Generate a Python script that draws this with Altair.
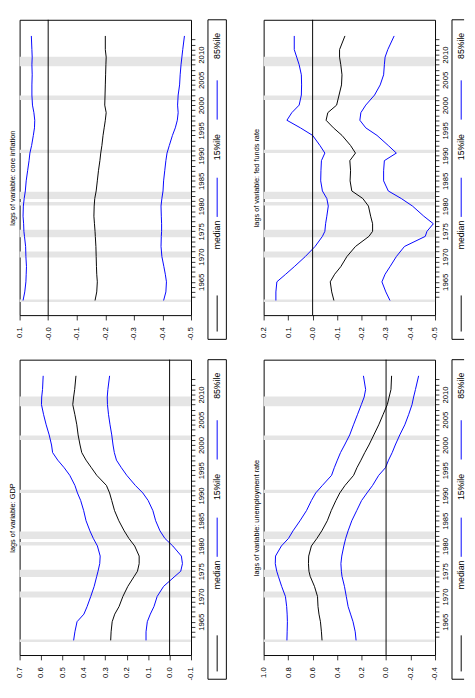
import altair as alt
import pandas as pd

# ---------------- data ----------------
YEARS = [1961.3, 1963, 1965, 1966.5, 1968, 1970, 1972, 1974, 1975, 1976.5, 1978,
         1980, 1981.5, 1983, 1985, 1987, 1989, 1990.5, 1992, 1994, 1995.5, 1997,
         1998.5, 2000, 2002, 2004, 2006, 2008, 2009.5, 2011, 2013.7]

REC_START = [1961.0, 1969.8, 1973.85, 1980.1, 1981.4, 1990.5, 2001.0, 2007.7]
REC_END = [1961.5, 1971.0, 1975.3, 1980.8, 1982.85, 1991.15, 2001.9, 2009.6]

# core inflation
INF_MED = [-0.164, -0.170, -0.172, -0.170, -0.169, -0.168, -0.167, -0.165, -0.164, -0.162, -0.160,
           -0.161, -0.163, -0.168, -0.172, -0.176, -0.181, -0.184, -0.188, -0.192, -0.196, -0.200,
           -0.203, -0.198, -0.199, -0.200, -0.201, -0.202, -0.203, -0.200, -0.200]
INF_P15 = [-0.404, -0.412, -0.414, -0.410, -0.405, -0.398, -0.395, -0.396, -0.397, -0.397, -0.396,
           -0.395, -0.398, -0.402, -0.404, -0.408, -0.412, -0.416, -0.424, -0.435, -0.445, -0.452,
           -0.455, -0.453, -0.455, -0.460, -0.462, -0.465, -0.468, -0.471, -0.477]
INF_P85 = [0.088, 0.082, 0.078, 0.077, 0.076, 0.078, 0.079, 0.083, 0.085, 0.086, 0.088,
           0.087, 0.084, 0.080, 0.077, 0.072, 0.067, 0.064, 0.058, 0.052, 0.048, 0.047,
           0.050, 0.055, 0.057, 0.057, 0.056, 0.057, 0.056, 0.057, 0.059]

# fed funds rate
FF_MED = [-0.087, -0.078, -0.072, -0.090, -0.115, -0.140, -0.175, -0.230, -0.245, -0.245, -0.237,
          -0.228, -0.205, -0.160, -0.153, -0.155, -0.152, -0.175, -0.155, -0.120, -0.085, -0.055,
          -0.062, -0.098, -0.108, -0.118, -0.120, -0.115, -0.110, -0.110, -0.132]
FF_P15 = [-0.316, -0.299, -0.283, -0.296, -0.316, -0.342, -0.375, -0.460, -0.467, -0.493, -0.454,
          -0.408, -0.362, -0.309, -0.290, -0.290, -0.293, -0.342, -0.309, -0.263, -0.217, -0.193,
          -0.197, -0.217, -0.253, -0.276, -0.290, -0.293, -0.296, -0.307, -0.333]
FF_P85 = [0.150, 0.150, 0.146, 0.110, 0.075, 0.030, -0.010, -0.040, -0.050, -0.053, -0.058,
          -0.064, -0.058, -0.040, -0.033, -0.034, -0.036, -0.050, -0.030, 0.000, 0.050, 0.105,
          0.085, 0.055, 0.046, 0.045, 0.046, 0.055, 0.065, 0.075, 0.075]

# GDP
GDP_MED = [0.275, 0.273, 0.268, 0.256, 0.236, 0.218, 0.195, 0.165, 0.150, 0.142, 0.142,
           0.163, 0.190, 0.212, 0.237, 0.257, 0.270, 0.280, 0.295, 0.340, 0.365, 0.390,
           0.410, 0.418, 0.427, 0.433, 0.442, 0.452, 0.448, 0.443, 0.437]
GDP_P15 = [0.110, 0.110, 0.104, 0.090, 0.073, 0.058, 0.028, -0.025, -0.052, -0.060, -0.055,
           -0.015, 0.022, 0.045, 0.065, 0.078, 0.100, 0.125, 0.160, 0.200, 0.225, 0.248,
           0.258, 0.264, 0.270, 0.278, 0.285, 0.290, 0.291, 0.288, 0.280]
GDP_P85 = [0.448, 0.442, 0.432, 0.400, 0.385, 0.368, 0.352, 0.340, 0.334, 0.326, 0.324,
           0.337, 0.356, 0.372, 0.390, 0.401, 0.415, 0.430, 0.442, 0.466, 0.492, 0.522,
           0.546, 0.551, 0.562, 0.576, 0.588, 0.598, 0.597, 0.593, 0.590]

# unemployment rate
UN_MED = [0.523, 0.528, 0.536, 0.548, 0.556, 0.560, 0.585, 0.620, 0.630, 0.634, 0.632,
          0.610, 0.565, 0.525, 0.480, 0.448, 0.410, 0.378, 0.335, 0.265, 0.238, 0.205,
          0.174, 0.140, 0.100, 0.060, 0.025, -0.010, -0.025, -0.040, -0.045]
UN_P15 = [0.245, 0.252, 0.270, 0.290, 0.310, 0.325, 0.340, 0.360, 0.365, 0.369, 0.362,
          0.345, 0.330, 0.310, 0.280, 0.240, 0.200, 0.156, 0.110, 0.060, 0.005, -0.020,
          -0.050, -0.075, -0.112, -0.153, -0.184, -0.212, -0.225, -0.240, -0.266]
UN_P85 = [0.810, 0.808, 0.806, 0.808, 0.812, 0.822, 0.853, 0.880, 0.893, 0.905, 0.903,
          0.855, 0.797, 0.760, 0.703, 0.650, 0.610, 0.575, 0.520, 0.445, 0.423, 0.398,
          0.372, 0.339, 0.297, 0.266, 0.234, 0.202, 0.179, 0.167, 0.185]

SERIES = ["median", "15%ile", "85%ile"]
COLORS = ["#000000", "#0000FF", "#0000FF"]

# ---------------- layout constants ----------------
W, H = 177, 305
LB = H + 25            # legend box bottom
YDOM = [1958.4, 2016.9]
FONT = "Liberation Sans"
ONE = pd.DataFrame({"k": [0]})
ZERO = pd.DataFrame({"value": [0.0]})


def val_label_expr(neg_zero):
    z = "'-0.0'" if neg_zero else "'0.0'"
    return ("abs(datum.value) < 1e-9 ? " + z +
            " : (datum.value < 0 ? '-' : '') + format(abs(datum.value), '.1f')")


def panel(title, med, p15, p85, vdom, vticks, neg_zero, cut=False):
    n = len(YEARS)
    df = pd.DataFrame({
        "year": YEARS * 3,
        "value": med + p15 + p85,
        "series": ["median"] * n + ["15%ile"] * n + ["85%ile"] * n,
    })
    rec = pd.DataFrame({"start": REC_START, "end": REC_END})

    yscale = alt.Scale(domain=YDOM, nice=False, zero=False)
    xscale = alt.Scale(domain=vdom, reverse=True, nice=False, zero=False)
    yaxis = alt.Axis(orient="right", values=list(range(1962, 2014)),
                     labelExpr="datum.value % 5 == 0 ? toString(datum.value) : ''",
                     labelAngle=270, labelAlign="center", labelBaseline="top",
                     labelPadding=2.5, labelFontSize=8, tickSize=4,
                     labelOverlap=False, labelFlush=False, domain=False, grid=False,
                     title=None)
    xaxis = alt.Axis(orient="bottom", values=vticks, labelExpr=val_label_expr(neg_zero),
                     labelAngle=270, labelAlign="right", labelBaseline="middle",
                     labelPadding=7, labelFontSize=8, tickSize=5,
                     labelOverlap=False, labelFlush=False, domain=False, grid=False,
                     title=None)

    bands = alt.Chart(rec).mark_rect(color="#E5E5E5").encode(
        y=alt.Y("start:Q", scale=yscale, axis=yaxis),
        y2="end:Q",
        x=alt.value(0), x2=alt.value(W),
    )
    zero = alt.Chart(ZERO).mark_rule(color="black", strokeWidth=1).encode(
        x=alt.X("value:Q", scale=xscale, axis=xaxis))
    lines = alt.Chart(df).mark_line(strokeWidth=1).encode(
        x=alt.X("value:Q", scale=xscale, axis=xaxis),
        y=alt.Y("year:Q", scale=yscale, axis=yaxis),
        color=alt.Color("series:N", scale=alt.Scale(domain=SERIES, range=COLORS), legend=None),
        order="year:Q",
    )
    ttl = alt.Chart(ONE).mark_text(text=title, angle=270, fontSize=7.6, font=FONT,
                                   align="center", baseline="middle", color="black").encode(
        x=alt.value(-7), y=alt.value(H / 2 + 11))

    # legend box
    x0, x1, cx = W + 17.5, W + 36.5, W + 27
    if not cut:
        box = [alt.Chart(ONE).mark_rect(fillOpacity=0, stroke="black", strokeWidth=1).encode(
            x=alt.value(x0), x2=alt.value(x1), y=alt.value(0), y2=alt.value(LB))]
    else:
        xe = W + 30
        box = [
            alt.Chart(ONE).mark_rule(color="black", strokeWidth=1).encode(
                x=alt.value(x0), y=alt.value(0), y2=alt.value(LB)),
            alt.Chart(ONE).mark_rule(color="black", strokeWidth=1).encode(
                x=alt.value(x0), x2=alt.value(xe), y=alt.value(0)),
            alt.Chart(ONE).mark_rule(color="black", strokeWidth=1).encode(
                x=alt.value(x0), x2=alt.value(xe), y=alt.value(LB)),
        ]
    k = LB / 339.3
    seg = [(292.7 * k, 331 * k, "#000000"), (167.7 * k, 209.3 * k, "#0000FF"),
           (64.3 * k, 106 * k, "#0000FF")]
    txt = [(228.5 * k, "median"), (135.2 * k, "15%ile"), (27.7 * k, "85%ile")]
    leg = []
    for a, b, c in seg:
        leg.append(alt.Chart(ONE).mark_rule(color=c, strokeWidth=1).encode(
            x=alt.value(cx), y=alt.value(a), y2=alt.value(b)))
    for yy, t in txt:
        leg.append(alt.Chart(ONE).mark_text(text=t, angle=270, fontSize=9, font=FONT,
                                            align="center", baseline="middle",
                                            color="black").encode(
            x=alt.value(cx), y=alt.value(yy)))

    return alt.layer(bands, lines, zero, ttl, *box, *leg).properties(width=W, height=H)


p_inf = panel("lags of variable: core inflation", INF_MED, INF_P15, INF_P85,
              [-0.5, 0.1], [0.1, 0.0, -0.1, -0.2, -0.3, -0.4, -0.5], True)
p_ff = panel("lags of variable: fed funds rate", FF_MED, FF_P15, FF_P85,
             [-0.5, 0.2], [0.2, 0.1, 0.0, -0.1, -0.2, -0.3, -0.4, -0.5], True, cut=True)
p_gdp = panel("lags of variable: GDP", GDP_MED, GDP_P15, GDP_P85,
              [-0.1, 0.7], [0.7, 0.6, 0.5, 0.4, 0.3, 0.2, 0.1, 0.0, -0.1], False)
p_un = panel("lags of variable: unemployment rate", UN_MED, UN_P15, UN_P85,
             [-0.4, 1.0], [1.0, 0.8, 0.6, 0.4, 0.2, 0.0, -0.2, -0.4], False, cut=True)

chart = alt.vconcat(
    alt.hconcat(p_inf, p_ff, spacing=25),
    alt.hconcat(p_gdp, p_un, spacing=25),
    spacing=18,
).properties(padding=0, background="white").configure_view(
    stroke="black", strokeWidth=1
).configure_axis(
    labelFont=FONT, labelColor="black", tickColor="black", tickWidth=0.8
)

chart.save("out.html", embed_options={"renderer": "svg", "actions": False})
